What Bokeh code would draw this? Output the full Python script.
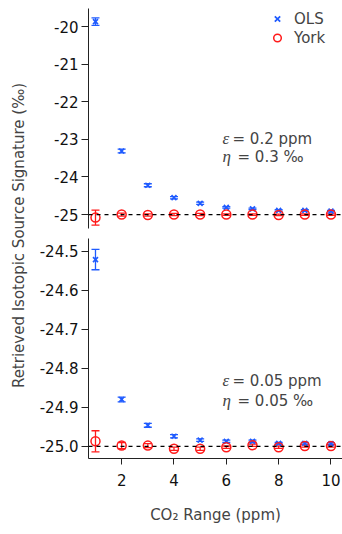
import math
from bokeh.plotting import figure
from bokeh.models import (Range1d, FixedTicker, PrintfTickFormatter, Span, Whisker,
                          TeeHead, ColumnDataSource, Legend, LegendItem, Label)
from bokeh.layouts import row, column
from bokeh.embed import file_html
from bokeh.resources import INLINE

# ---------------- data ----------------
co2_range = [1, 2, 3, 4, 5, 6, 7, 8, 9, 10]

top_ols = [-19.87, -23.31, -24.22, -24.55, -24.70, -24.81, -24.85, -24.89, -24.89, -24.91]
top_ols_err = [0.10, 0.05, 0.04, 0.03, 0.03, 0.02, 0.02, 0.02, 0.02, 0.02]
top_york = [-25.08, -25.00, -25.01, -25.00, -25.00, -25.00, -25.00, -25.01, -25.00, -25.00]
top_york_err = [0.20, 0.04, 0.03, 0.03, 0.03, 0.02, 0.02, 0.02, 0.02, 0.02]

bot_ols = [-24.522, -24.880, -24.946, -24.974, -24.984, -24.987, -24.987, -24.992, -24.992, -24.993]
bot_ols_err = [0.026, 0.006, 0.005, 0.004, 0.003, 0.003, 0.003, 0.002, 0.002, 0.002]
bot_york = [-24.987, -24.998, -24.998, -25.006, -25.006, -25.002, -24.997, -25.002, -24.999, -24.999]
bot_york_err = [0.027, 0.008, 0.005, 0.004, 0.004, 0.003, 0.003, 0.003, 0.003, 0.003]

true_value = -25.0
x_ticks = [2, 4, 6, 8, 10]
top_y_ticks = [-20, -21, -22, -23, -24, -25]
bot_y_ticks = [-24.5, -24.6, -24.7, -24.8, -24.9, -25.0]

top_params = ("0.2 ppm", "0.3 \u2030")
bot_params = ("0.05 ppm", "0.05 \u2030")

# ---------------- style ----------------
FONT = "DejaVu Sans"
GREEK = "Liberation Serif"
FS = "15px"
BLUE = "#1f5bff"
RED = "#ff1a1a"
AXC = "#222222"
X_RANGE = (0.733, 10.44)


def style_yaxis(p, ticks, fmt):
    ax = p.yaxis[0]
    ax.ticker = FixedTicker(ticks=ticks)
    ax.formatter = PrintfTickFormatter(format=fmt)
    ax.major_tick_out = 7
    ax.major_tick_in = 0
    ax.minor_tick_out = 0
    ax.minor_tick_in = 0
    ax.axis_line_color = AXC
    ax.major_tick_line_color = AXC
    ax.major_label_text_font = FONT
    ax.major_label_text_font_size = FS
    ax.major_label_text_color = "#111111"
    ax.major_label_standoff = 3


def add_series(p, y_ols, e_ols, y_york, e_york):
    s_ols = ColumnDataSource(dict(x=co2_range, y=y_ols,
                                  lo=[a - b for a, b in zip(y_ols, e_ols)],
                                  hi=[a + b for a, b in zip(y_ols, e_ols)]))
    s_york = ColumnDataSource(dict(x=co2_range, y=y_york,
                                   lo=[a - b for a, b in zip(y_york, e_york)],
                                   hi=[a + b for a, b in zip(y_york, e_york)]))
    p.add_layout(Span(location=true_value, dimension="width", line_color="black",
                      line_dash="4 4", line_width=1.3))
    for src, col in ((s_ols, BLUE), (s_york, RED)):
        p.add_layout(Whisker(base="x", lower="lo", upper="hi", source=src,
                             line_color=col, line_width=1.3,
                             upper_head=TeeHead(size=8, line_color=col, line_width=1.3),
                             lower_head=TeeHead(size=8, line_color=col, line_width=1.3)))
    r_ols = p.scatter("x", "y", source=s_ols, marker="x", size=7,
                      line_color=BLUE, line_width=1.7)
    r_york = p.scatter("x", "y", source=s_york, marker="circle", size=9,
                       line_color=RED, fill_color=None, line_width=1.5)
    return r_ols, r_york


def add_params(p, params, y_eps, y_eta):
    # y positions in screen units from frame bottom
    p.add_layout(Label(x=134, y=y_eps, x_units="screen", y_units="screen", text="\u03b5",
                       text_font=GREEK, text_font_style="italic", text_font_size="17px",
                       text_baseline="middle"))
    p.add_layout(Label(x=144, y=y_eps, x_units="screen", y_units="screen",
                       text="= " + params[0], text_font=FONT, text_font_size=FS,
                       text_baseline="middle"))
    p.add_layout(Label(x=134, y=y_eta, x_units="screen", y_units="screen", text="\u03b7",
                       text_font=GREEK, text_font_style="italic", text_font_size="17px",
                       text_baseline="middle"))
    p.add_layout(Label(x=149, y=y_eta, x_units="screen", y_units="screen",
                       text="= " + params[1], text_font=FONT, text_font_size=FS,
                       text_baseline="middle"))


# ---------------- top panel ----------------
p1 = figure(width=312, height=238, x_range=Range1d(*X_RANGE), y_range=Range1d(-25.37, -19.52),
            output_backend="svg", toolbar_location=None, x_axis_location=None,
            min_border_left=58, min_border_right=0, min_border_top=8, min_border_bottom=10)
p1.grid.visible = False
p1.outline_line_color = None
style_yaxis(p1, top_y_ticks, "%d")
r_ols, r_york = add_series(p1, top_ols, top_ols_err, top_york, top_york_err)
add_params(p1, top_params, 90, 72)

legend = Legend(items=[LegendItem(label="OLS", renderers=[r_ols]),
                       LegendItem(label="York", renderers=[r_york])],
                location=(179, 181), padding=0, margin=0, spacing=0,
                glyph_width=20, glyph_height=19, label_height=19, label_standoff=7,
                border_line_color=None, background_fill_alpha=0,
                label_text_font=FONT, label_text_font_size=FS)
p1.add_layout(legend)

# ---------------- bottom panel ----------------
p2 = figure(width=312, height=288, x_range=p1.x_range, y_range=Range1d(-25.031, -24.468),
            output_backend="svg", toolbar_location=None,
            min_border_left=58, min_border_right=0, min_border_top=0, min_border_bottom=65)
p2.grid.visible = False
p2.outline_line_color = None
style_yaxis(p2, bot_y_ticks, "%.1f")
xa = p2.xaxis[0]
xa.ticker = FixedTicker(ticks=x_ticks)
xa.major_tick_out = 6
xa.major_tick_in = 0
xa.minor_tick_out = 0
xa.minor_tick_in = 0
xa.axis_line_color = AXC
xa.major_tick_line_color = AXC
xa.major_label_text_font = FONT
xa.major_label_text_font_size = FS
xa.major_label_text_color = "#111111"
xa.major_label_standoff = 9
xa.axis_label = "CO\u2082 Range (ppm)"
xa.axis_label_text_font = FONT
xa.axis_label_text_font_size = FS
xa.axis_label_text_font_style = "normal"
xa.axis_label_standoff = 17
add_series(p2, bot_ols, bot_ols_err, bot_york, bot_york_err)
add_params(p2, bot_params, 78, 58)

# ---------------- y label ----------------
pl = figure(width=30, height=526, x_range=Range1d(0, 1), y_range=Range1d(0, 1),
            output_backend="svg", toolbar_location=None,
            x_axis_location=None, y_axis_location=None,
            min_border=0, min_border_left=0, min_border_right=0,
            min_border_top=0, min_border_bottom=0)
pl.grid.visible = False
pl.outline_line_color = None
pl.add_layout(Label(x=18, y=291, x_units="screen", y_units="screen",
                    text="Retrieved Isotopic Source Signature (\u2030)", angle=math.pi / 2,
                    text_font=FONT, text_font_size=FS, text_align="center",
                    text_baseline="middle"))

layout = row(pl, column(p1, p2))
open("out.html", "w").write(file_html(layout, INLINE))
